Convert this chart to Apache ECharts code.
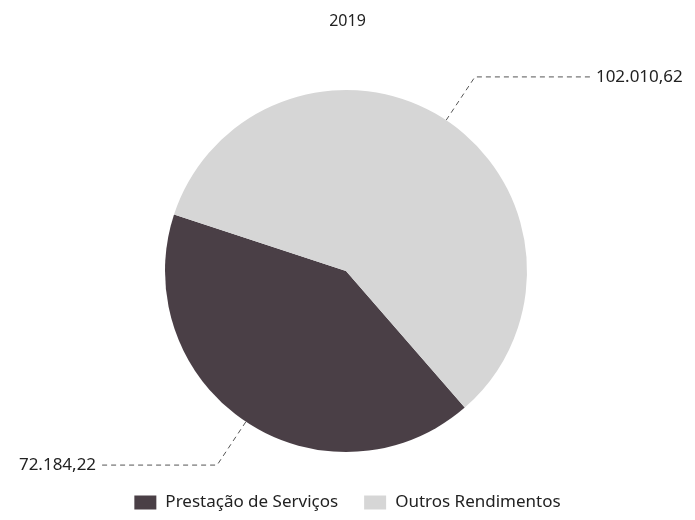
<!DOCTYPE html>
<html>
<head>
<meta charset="utf-8">
<script src="https://cdn.jsdelivr.net/npm/echarts@6/dist/echarts.min.js"></script>
<style>
  html, body { margin: 0; padding: 0; background: #fff; }
  #chart { width: 695px; height: 520px; }
</style>
</head>
<body>
<div id="chart"></div>
<script>
// dados do gráfico
const chartTitle = '2019';
const categories = ['Prestação de Serviços', 'Outros Rendimentos'];
const values = [72184.22, 102010.62];
const sliceColors = ['#4a3f46', '#d6d6d6'];

// formato pt-BR: 102.010,62
function formatValue(v) {
  return v.toLocaleString('pt-BR', { minimumFractionDigits: 2, maximumFractionDigits: 2 });
}

const chart = echarts.init(document.getElementById('chart'));

const option = {
  animation: false,
  backgroundColor: '#fff',
  textStyle: { fontFamily: 'Noto Sans' },
  title: {
    text: chartTitle,
    left: 'center',
    top: 8,
    textStyle: { fontSize: 16, fontWeight: 'normal', color: '#222' }
  },
  legend: {
    bottom: 4,
    left: 'center',
    icon: 'rect',
    itemWidth: 22,
    itemHeight: 14,
    itemGap: 26,
    textStyle: { fontSize: 17, color: '#222', padding: [0, 0, 0, 4] },
    data: categories
  },
  series: [
    {
      type: 'pie',
      center: [346, 271],
      radius: 181,
      startAngle: 311,
      clockwise: true,
      color: sliceColors,
      emphasis: { disabled: true },
      label: {
        show: true,
        position: 'outside',
        fontSize: 17,
        color: '#222',
        overflow: 'none',
        formatter: (p) => formatValue(p.value)
      },
      labelLine: {
        show: true,
        length: 52,
        length2: 116,
        lineStyle: { color: '#555', width: 1, type: [5, 4] }
      },
      data: categories.map((name, i) => ({ name: name, value: values[i] }))
    }
  ]
};

chart.setOption(option);
</script>
</body>
</html>
